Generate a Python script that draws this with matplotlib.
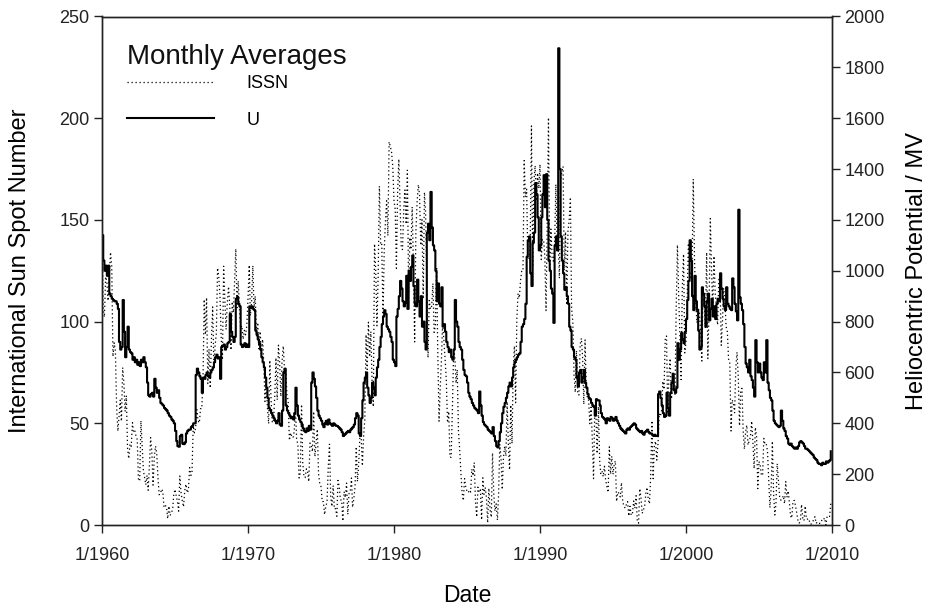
import matplotlib
matplotlib.use("Agg")
import matplotlib.pyplot as plt
import pandas as pd

# Monthly International Sun Spot Number, Jan 1960 .. Dec 2009 (one row per year)
issn = [
    146.3, 106.0, 102.2, 122.0, 119.6, 110.2, 121.7, 134.1, 127.2, 82.8, 89.6, 85.6,
    57.9, 46.1, 53.0, 61.4, 51.0, 77.4, 70.2, 55.8, 63.6, 37.7, 32.6, 39.9,
    38.7, 50.3, 45.6, 46.4, 43.7, 42.0, 21.8, 21.8, 51.3, 39.5, 26.9, 23.4,
    19.8, 24.4, 17.1, 29.3, 43.0, 35.9, 19.6, 33.2, 38.8, 35.3, 23.4, 14.9,
    15.3, 17.7, 16.5, 8.6, 9.5, 9.1, 3.1, 9.3, 4.7, 6.1, 7.4, 15.1,
    17.5, 14.2, 11.7, 6.8, 24.1, 15.9, 11.9, 8.9, 16.8, 20.1, 15.8, 17.0,
    28.2, 24.4, 25.3, 48.7, 45.3, 47.7, 56.7, 51.2, 50.2, 57.2, 57.2, 70.4,
    110.9, 93.6, 111.8, 69.5, 86.5, 67.3, 91.5, 107.2, 76.8, 88.2, 94.3, 126.4,
    121.8, 111.9, 92.2, 81.2, 127.2, 110.3, 96.1, 109.3, 117.2, 107.7, 86.0, 109.8,
    104.4, 120.5, 135.8, 106.8, 120.0, 106.0, 96.8, 98.0, 91.3, 95.7, 93.5, 97.9,
    111.5, 127.8, 102.9, 109.5, 127.5, 106.8, 112.5, 93.0, 99.5, 86.6, 95.2, 83.5,
    91.3, 79.0, 60.7, 71.8, 57.5, 49.8, 81.0, 61.4, 50.2, 51.7, 63.2, 82.2,
    61.5, 88.4, 80.1, 63.2, 80.5, 88.0, 76.5, 76.8, 64.0, 61.3, 41.6, 45.3,
    43.4, 42.9, 46.0, 57.7, 42.4, 39.5, 23.1, 25.6, 59.3, 30.7, 23.9, 23.3,
    27.6, 26.0, 21.3, 40.3, 39.5, 36.0, 55.8, 33.6, 40.2, 47.1, 25.0, 20.5,
    18.9, 11.5, 11.5, 5.1, 9.0, 11.4, 28.2, 39.7, 13.9, 9.1, 19.4, 7.8,
    8.1, 4.3, 21.9, 18.8, 12.4, 12.2, 1.9, 16.4, 13.5, 20.6, 5.2, 15.3,
    16.4, 23.1, 8.7, 12.9, 18.6, 38.5, 21.4, 30.1, 44.0, 43.8, 29.1, 43.2,
    51.9, 93.6, 76.5, 99.7, 82.7, 95.1, 70.4, 58.1, 138.2, 125.1, 97.9, 122.7,
    166.6, 137.5, 138.0, 101.5, 134.4, 149.5, 159.4, 142.2, 188.4, 186.2, 183.3, 176.3,
    159.6, 155.0, 126.2, 164.1, 179.9, 157.3, 136.3, 135.4, 155.0, 164.7, 147.9, 174.4,
    114.0, 141.3, 135.5, 156.4, 127.5, 90.0, 143.8, 158.7, 167.3, 162.4, 137.5, 150.1,
    111.2, 163.6, 153.8, 122.0, 82.2, 110.4, 106.1, 107.6, 118.8, 94.7, 98.1, 127.0,
    84.3, 51.0, 66.5, 80.7, 99.2, 91.1, 82.2, 71.8, 50.3, 55.8, 33.3, 33.4,
    57.0, 85.1, 83.5, 69.7, 76.4, 46.1, 37.4, 25.5, 15.7, 12.0, 22.8, 18.7,
    16.5, 15.9, 17.2, 16.2, 27.5, 24.2, 30.7, 11.1, 3.9, 18.6, 16.2, 17.3,
    2.5, 23.2, 15.1, 18.5, 13.7, 1.1, 18.1, 7.4, 3.8, 35.4, 15.2, 6.8,
    10.4, 2.4, 14.7, 39.6, 33.0, 17.4, 33.0, 38.7, 33.9, 60.6, 39.9, 27.1,
    59.0, 40.0, 76.2, 88.0, 60.1, 101.8, 113.8, 111.6, 120.1, 125.1, 125.1, 179.2,
    161.3, 165.1, 131.4, 130.6, 138.5, 196.2, 126.9, 168.9, 176.7, 159.4, 173.0, 165.5,
    177.3, 130.5, 140.3, 140.3, 132.2, 105.4, 149.4, 200.3, 125.2, 145.5, 131.4, 129.7,
    136.9, 167.5, 141.9, 140.0, 121.3, 169.7, 173.7, 176.3, 125.3, 144.1, 108.2, 144.4,
    150.0, 161.1, 106.7, 99.8, 73.8, 65.2, 85.7, 64.5, 63.9, 88.7, 91.8, 82.6,
    59.3, 91.0, 69.8, 62.2, 61.3, 49.8, 57.9, 42.3, 22.8, 56.1, 53.5, 35.1,
    58.2, 31.9, 25.3, 26.6, 23.8, 28.9, 22.0, 19.1, 16.0, 38.4, 25.0, 33.8,
    24.8, 29.9, 31.5, 11.6, 16.2, 15.5, 13.8, 20.8, 11.5, 9.4, 8.3, 10.0,
    11.5, 4.4, 9.2, 4.8, 5.5, 11.8, 8.2, 14.4, 1.6, 0.9, 17.9, 13.3,
    5.7, 7.6, 8.7, 15.5, 18.5, 12.7, 10.4, 24.4, 51.3, 22.8, 39.0, 41.2,
    31.9, 40.3, 54.8, 53.4, 56.3, 70.7, 66.6, 92.2, 92.9, 55.5, 74.0, 81.9,
    62.0, 66.3, 68.8, 63.7, 106.4, 137.7, 113.5, 93.7, 71.5, 116.7, 133.2, 84.6,
    90.1, 112.9, 138.5, 125.5, 121.6, 124.9, 170.1, 130.5, 109.7, 99.4, 106.8, 104.4,
    95.6, 80.6, 113.5, 107.7, 96.6, 134.0, 81.8, 106.4, 150.7, 125.5, 106.5, 132.2,
    114.1, 107.4, 98.4, 120.7, 120.8, 88.3, 99.6, 116.4, 109.6, 97.5, 95.0, 81.6,
    79.5, 46.2, 61.5, 60.0, 55.2, 77.4, 85.0, 72.7, 48.8, 65.6, 67.2, 46.5,
    37.3, 45.8, 49.1, 39.3, 41.5, 43.2, 51.1, 40.9, 27.7, 48.0, 43.5, 17.9,
    31.3, 29.2, 24.5, 24.4, 42.6, 39.6, 39.9, 36.4, 22.1, 8.5, 18.0, 41.2,
    15.3, 4.9, 10.6, 30.2, 22.3, 13.9, 12.2, 12.9, 14.4, 10.5, 21.4, 13.6,
    16.8, 10.7, 4.5, 3.4, 11.7, 12.1, 9.7, 6.0, 2.4, 0.9, 1.7, 10.1,
    3.4, 2.1, 9.3, 2.9, 2.9, 3.1, 0.5, 0.5, 1.1, 2.9, 4.1, 0.8,
    1.5, 1.4, 0.7, 1.2, 2.9, 2.6, 3.5, 0.0, 4.2, 4.6, 4.2, 10.6,
]

# Monthly heliocentric (modulation) potential U in MV, Jan 1960 .. Dec 2009
u_mv = [
    1140, 1040, 1000, 1020, 980, 1020, 910, 900, 890, 885, 880, 880,
    870, 850, 720, 690, 700, 885, 760, 660, 700, 780, 690, 680,
    675, 650, 660, 640, 650, 630, 640, 625, 650, 640, 660, 640,
    620, 560, 510, 505, 515, 520, 505, 575, 540, 520, 530, 500,
    480, 475, 470, 460, 455, 450, 440, 430, 425, 415, 410, 400,
    370, 330, 310, 308, 350, 355, 320, 318, 325, 360, 370, 375,
    375, 385, 390, 400, 400, 590, 615, 600, 585, 575, 520, 580,
    575, 590, 600, 585, 580, 600, 610, 620, 640, 660, 670, 655,
    660, 575, 700, 705, 710, 690, 700, 715, 720, 830, 760, 740,
    720, 740, 890, 897, 870, 860, 710, 700, 705, 715, 700, 710,
    700, 860, 855, 860, 850, 845, 765, 750, 730, 715, 690, 660,
    640, 620, 580, 540, 500, 460, 452, 440, 430, 420, 410, 400,
    410, 440, 395, 390, 450, 600, 615, 470, 450, 440, 430, 420,
    425, 415, 440, 540, 470, 430, 415, 405, 395, 380, 370, 365,
    380, 370, 390, 375, 560, 600, 575, 545, 500, 450, 430, 420,
    410, 395, 385, 400, 410, 395, 415, 400, 395, 390, 400, 395,
    390, 390, 385, 380, 375, 365, 350, 355, 360, 365, 370, 365,
    375, 380, 385, 395, 420, 440, 430, 360, 350, 420, 490, 560,
    580, 600, 540, 510, 480, 500, 560, 540, 510, 580, 620, 650,
    700, 740, 790, 820, 845, 830, 780, 770, 760, 740, 720, 650,
    640, 625, 820, 850, 900, 960, 930, 880, 860, 875, 980, 850,
    1000, 960, 1015, 1060, 940, 870, 860, 965, 880, 820, 900, 780,
    800, 720, 690, 1150, 1185, 1120, 1310, 1170, 1100, 1080, 1000, 880,
    950, 870, 860, 935, 780, 790, 760, 720, 700, 680, 690, 660,
    650, 690, 885, 800, 780, 720, 700, 690, 650, 610, 590, 585,
    560, 520, 505, 495, 480, 470, 460, 455, 450, 440, 525, 470,
    430, 405, 395, 390, 385, 375, 370, 365, 360, 385, 350, 330,
    310, 305, 330, 365, 400, 440, 465, 480, 500, 520, 545, 560,
    545, 580, 620, 640, 650, 660, 670, 675, 720, 780, 790, 810,
    870, 1055, 1120, 1135, 990, 940, 1110, 1150, 1345, 1300, 1210, 1080,
    1100, 1210, 1300, 1376, 1250, 1380, 1200, 1040, 1000, 930, 910, 795,
    1100, 1135, 1080, 1875, 1400, 1135, 1040, 990, 925, 935, 900, 870,
    780, 765, 700, 690, 660, 650, 580, 545, 600, 610, 560, 580,
    610, 560, 540, 515, 500, 495, 480, 470, 465, 430, 495, 490,
    490, 470, 440, 425, 420, 415, 400, 420, 415, 410, 425, 420,
    410, 415, 425, 410, 400, 390, 380, 375, 370, 365, 360, 375,
    380, 375, 385, 390, 395, 400, 395, 380, 375, 370, 365, 370,
    360, 355, 365, 370, 375, 365, 360, 360, 355, 350, 355, 350,
    350, 515, 525, 500, 470, 440, 425, 430, 520, 460, 430, 520,
    560, 595, 530, 520, 540, 715, 650, 690, 755, 730, 715, 760,
    810, 885, 960, 1120, 1040, 900, 845, 980, 880, 845, 765, 690,
    700, 935, 910, 860, 780, 880, 910, 805, 850, 890, 820, 860,
    810, 870, 890, 880, 990, 930, 890, 860, 845, 935, 870, 860,
    850, 845, 970, 935, 870, 840, 805, 1240, 895, 870, 845, 790,
    700, 635, 620, 600, 650, 585, 570, 540, 505, 727, 640, 600,
    635, 600, 580, 570, 640, 600, 727, 560, 530, 500, 490, 450,
    410, 400, 395, 390, 385, 390, 450, 410, 380, 370, 350, 340,
    320, 315, 320, 310, 305, 300, 305, 300, 310, 325, 330, 325,
    320, 310, 300, 300, 295, 290, 285, 280, 275, 265, 260, 255,
    245, 240, 240, 235, 245, 240, 240, 250, 245, 250, 255, 290,
]

xtick_years = [1960, 1970, 1980, 1990, 2000, 2010]
xtick_labels = ["1/1960", "1/1970", "1/1980", "1/1990", "1/2000", "1/2010"]
issn_ticks = [0, 50, 100, 150, 200, 250]
u_ticks = [0, 200, 400, 600, 800, 1000, 1200, 1400, 1600, 1800, 2000]

dates = pd.date_range("1960-01-01", periods=len(issn), freq="MS")
tick_dates = [pd.Timestamp(f"{y}-01-01") for y in xtick_years]

plt.rcParams["font.family"] = ["Liberation Sans", "DejaVu Sans"]

W, H = 934, 611
fig = plt.figure(figsize=(W / 100, H / 100), dpi=100)
left_px, right_px, top_px, bottom_px = 102, 832, 16.5, 525
ax_w = right_px - left_px
ax_h = bottom_px - top_px
ax = fig.add_axes([left_px / W, 1 - bottom_px / H, ax_w / W, ax_h / H])
ax2 = ax.twinx()

l1, = ax.plot(dates, issn, color="black", lw=0.9, linestyle=(0, (1, 2.2)),
              label="ISSN")
l2, = ax2.plot(dates, u_mv, color="black", lw=1.5, drawstyle="steps-post",
               label="U")

ax.set_xlim(tick_dates[0], tick_dates[-1])
ax.set_ylim(0, 250)
ax2.set_ylim(0, 2000)
ax.set_xticks(tick_dates)
ax.set_xticklabels(xtick_labels)
ax.set_yticks(issn_ticks)
ax2.set_yticks(u_ticks)

for a in (ax, ax2):
    for s in a.spines.values():
        s.set_linewidth(1.0)
        s.set_color("#222222")
    a.tick_params(direction="out", length=6, width=1.0, labelsize=13,
                  colors="#222222", pad=3)
ax.tick_params(axis="x", pad=10)
ax2.tick_params(axis="x", bottom=False, top=False)

ax.set_xlabel("Date", fontsize=16.5)
ax.xaxis.set_label_coords(0.5, -0.116)
ax.set_ylabel("International Sun Spot Number", fontsize=17)
ax.yaxis.set_label_coords((31 - left_px) / ax_w, 0.5)
ax2.set_ylabel("Heliocentric Potential / MV", fontsize=17)
ax2.yaxis.set_label_coords((906 - left_px) / ax_w, 0.5)

# Title of the key, drawn above the two legend rows
ax.text((127 - left_px) / ax_w, (bottom_px - 57) / ax_h, "Monthly Averages",
        transform=ax.transAxes, fontsize=20, ha="left", va="center",
        color="#111111")

leg = ax.legend(handles=[l1, l2], loc="upper left",
                bbox_to_anchor=((127 - left_px) / ax_w, (bottom_px - 75) / ax_h),
                frameon=False, fontsize=13, handlelength=4.8,
                handletextpad=1.8, labelspacing=1.09, borderpad=0,
                borderaxespad=0)

fig.savefig("out.png", dpi=100)
